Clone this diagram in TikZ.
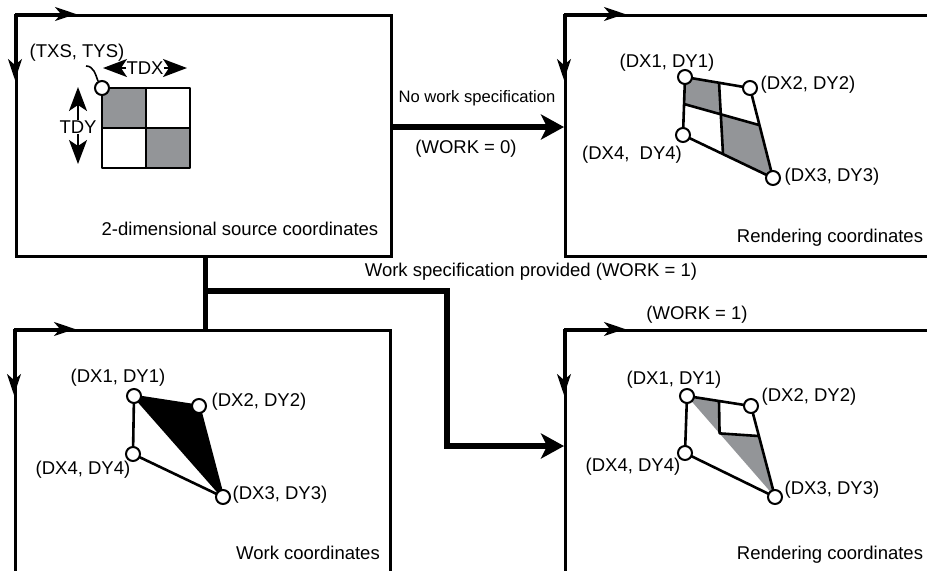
\documentclass[tikz,border=0pt]{standalone}
\usepackage{fontspec}
\setmainfont{Liberation Sans}
\usetikzlibrary{positioning, arrows.meta, calc}
\definecolor{cellgray}{HTML}{939598}

\tikzset{
  frame/.style={draw, line width=1.3pt, rectangle, anchor=north west, inner sep=0pt},
  edgetip/.style={line width=1.3pt, -{Stealth[length=10.5pt, width=7pt, inset=3pt]}},
  bigarrow/.style={line width=3pt, -{Stealth[length=11.5pt, width=12.5pt, inset=3pt]}},
  bigline/.style={line width=2.5pt},
  quad/.style={line width=1.3pt, line join=round},
  vertex/.style={circle, draw, fill=white, line width=1pt, minimum size=7pt, inner sep=0pt},
  lbl/.style={inner sep=1pt, font=\fontsize{9.25}{11}\selectfont},
  dimtip/.style={line width=1pt, -{Stealth[length=12pt, width=9pt, inset=3pt]}},
}

\begin{document}
\begin{tikzpicture}[x=0.5pt, y=-0.5pt]
  \useasboundingbox (0,0) rectangle (927,570);
  \clip (0,0) rectangle (927,570);

  % the four coordinate frames
  \node[frame, minimum width=187.5pt, minimum height=120.5pt] (src) at (15,14) {};
  \node[frame, minimum width=213pt, minimum height=120.5pt] (rnd) at (564,14) {};
  \node[frame, minimum width=187.5pt, minimum height=135.5pt] (work) at (14,329) {};
  \node[frame, minimum width=213pt, minimum height=135.5pt] (rndw) at (564,329) {};
  \foreach \f in {src, rnd, work, rndw} {
    \draw[edgetip] (\f.north west) -- ++(61,0);
    \draw[edgetip] (\f.north west) -- ++(0,66);
  }

  % source texture
  \fill[cellgray] (102,88) rectangle (146,128);
  \fill[cellgray] (146,128) rectangle (190,168);
  \draw[quad] (102,88) rectangle (190,168);
  \draw[quad] (146,88) -- (146,168) (102,128) -- (190,128);
  \node[vertex] (txs) at (102,88) {};
  \node[lbl] (txslbl) at (77,53) {(TXS, TYS)};
  \draw[line width=0.8pt] (86,66) to[out=0, in=110] (txs.120);
  \node[lbl, inner sep=0pt] (tdx) at (145,68) {TDX};
  \draw[dimtip] (tdx.west) -- (103,68);
  \draw[dimtip] (tdx.east) -- (187,68);
  \node[lbl, inner sep=0pt] (tdy) at (78,127) {TDY};
  \draw[dimtip] (tdy.north) -- (78,87);
  \draw[dimtip] (tdy.south) -- (78,164);
  \node[lbl] (srclbl) at (240,229) {2-dimensional source coordinates};

  % rendering without work
  \coordinate (a1) at (685,77);
  \coordinate (a2) at (750,88);
  \coordinate (a3) at (773,178);
  \coordinate (a4) at (683,135);
  \coordinate (a12) at (719,82);
  \coordinate (a23) at (759,125);
  \coordinate (a34) at (723,154);
  \coordinate (a41) at (684,104);
  \coordinate (ac) at (721,115);
  \fill[cellgray] (a1) -- (a12) -- (ac) -- (a41) -- cycle;
  \fill[cellgray] (ac) -- (a23) -- (a3) -- (a34) -- cycle;
  \draw[quad] (a1) -- (a2) -- (a3) -- (a4) -- cycle (a12) -- (a34) (a41) -- (a23);
  \foreach \p in {a1, a2, a3, a4} \node[vertex] at (\p) {};
  \node[lbl] (a1lbl) at (667,63) {(DX1, DY1)};
  \node[lbl] (a2lbl) at (808,85) {(DX2, DY2)};
  \node[lbl] (a4lbl) at (632,155) {(DX4, \ DY4)};
  \node[lbl] (a3lbl) at (832,177) {(DX3, DY3)};
  \node[lbl] (rndlbl) at (830,238) {Rendering coordinates};

  % work coordinates
  \coordinate (b1) at (134,396);
  \coordinate (b2) at (199,406);
  \coordinate (b3) at (223,497);
  \coordinate (b4) at (133,454);
  \fill[black] (b1) -- (b2) -- (b3) -- cycle;
  \draw[quad] (b1) -- (b2) -- (b3) -- (b4) -- cycle (b1) -- (b3);
  \foreach \p in {b1, b2, b3, b4} \node[vertex] at (\p) {};
  \node[lbl] (b1lbl) at (118,378) {(DX1, DY1)};
  \node[lbl] (b2lbl) at (259,402) {(DX2, DY2)};
  \node[lbl] (b4lbl) at (83,470) {(DX4, DY4)};
  \node[lbl] (b3lbl) at (280,495) {(DX3, DY3)};
  \node[lbl] (worklbl) at (308,553) {Work coordinates};

  % rendering through work
  \coordinate (c1) at (687,396);
  \coordinate (c2) at (751,406);
  \coordinate (c3) at (775,497);
  \coordinate (c4) at (685,453);
  \coordinate (c12) at ($(c1)!0.5!(c2)$);
  \coordinate (c23) at ($(c2)!0.33!(c3)$);
  \coordinate (cc) at ($(c1)!0.37!(c3)$);
  \fill[cellgray] (c1) -- (c12) -- (cc) -- cycle;
  \fill[cellgray] (cc) -- (c23) -- (c3) -- cycle;
  \draw[quad] (c1) -- (c2) -- (c3) -- (c4) -- cycle (c12) -- (cc) -- (c23);
  \foreach \p in {c1, c2, c3, c4} \node[vertex] at (\p) {};
  \node[lbl] (c1lbl) at (674,380) {(DX1, DY1)};
  \node[lbl] (c2lbl) at (809,397) {(DX2, DY2)};
  \node[lbl] (c4lbl) at (633,467) {(DX4, DY4)};
  \node[lbl] (c3lbl) at (832,490) {(DX3, DY3)};
  \node[lbl] (rndwlbl) at (830,555) {Rendering coordinates};

  % connectors
  \coordinate (nowork) at (390,127);
  \draw[bigarrow] (nowork) -- (nowork -| rnd.west);
  \node[lbl, font=\fontsize{8.3}{10}\selectfont] (noworklbl) at (477,98) {No work specification};
  \node[lbl] (work0lbl) at (466,149) {(WORK = 0)};
  \coordinate (split) at (205,291);
  \coordinate (turn) at (447,291);
  \coordinate (drop) at (447,446);
  \draw[bigline] (split |- src.south) -- (split |- work.north);
  \draw[bigarrow] (split) -- (turn) -- (drop) -- (drop -| rndw.west);
  \node[lbl] (work1lbl) at (531,272) {Work specification provided (WORK = 1)};
  \node[lbl] (rndw1lbl) at (697,315) {(WORK = 1)};
\end{tikzpicture}
\end{document}
